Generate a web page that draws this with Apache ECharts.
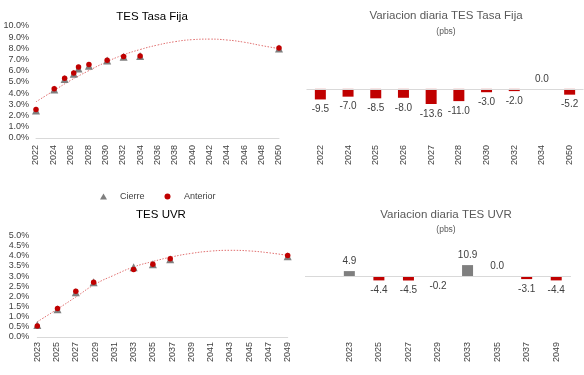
<!DOCTYPE html>
<html><head><meta charset="utf-8">
<script src="https://cdn.jsdelivr.net/npm/echarts@6/dist/echarts.min.js"></script>
<style>html,body{margin:0;padding:0;background:#fff}#c{width:584px;height:375px}</style>
</head><body><div id="c"></div>
<script>
// ---- Data: TES Tasa Fija (top-left scatter) ----
const tfYears    = [2022.0, 2024.1, 2025.3, 2026.35, 2026.9, 2028.1, 2030.2, 2032.1, 2034.0, 2050.0];
const tfAnterior = [2.55, 4.39, 5.34, 5.81, 6.35, 6.56, 6.95, 7.27, 7.33, 8.04];
const tfCierre   = [2.46, 4.32, 5.26, 5.73, 6.21, 6.45, 6.92, 7.25, 7.33, 7.99];
const tfTrendX   = [2022, 2024, 2026, 2028, 2030, 2032, 2034, 2036, 2038, 2040, 2042, 2044, 2046, 2048, 2050];
const tfTrendY   = [3.23, 4.20, 5.15, 5.98, 6.75, 7.40, 7.90, 8.30, 8.60, 8.78, 8.83, 8.75, 8.55, 8.25, 7.98];

// ---- Data: TES UVR (bottom-left scatter) ----
const uvrYears    = [2023.0, 2025.1, 2027.0, 2028.85, 2033.0, 2035.0, 2036.8, 2049.0];
const uvrAnterior = [0.54, 1.41, 2.25, 2.70, 3.32, 3.58, 3.86, 4.02];
const uvrCierre   = [0.59, 1.37, 2.21, 2.70, 3.43, 3.58, 3.83, 3.98];
const uvrTrendX   = [2023, 2025, 2027, 2029, 2031, 2033, 2035, 2037, 2039, 2041, 2043, 2045, 2047, 2049];
const uvrTrendY   = [0.75, 1.35, 1.97, 2.60, 3.05, 3.45, 3.72, 3.95, 4.12, 4.23, 4.27, 4.24, 4.15, 4.02];

// ---- Data: daily variation bars ----
const tfVarCats = ['2022','2024','2025','2026','2027','2028','2030','2032','2034','2050'];
const tfVarVals = [-9.5, -7.0, -8.5, -8.0, -13.6, -11.0, -3.0, -2.0, 0.0, -5.2];
const uvrVarCats = ['', '2023','2025','2027','2029','2033','2035','2037','2049'];
const uvrVarVals = [null, 4.9, -4.4, -4.5, -0.2, 10.9, 0.0, -3.1, -4.4];

const UVR0 = 2023; // offset so the tick grid starts at a multiple of the interval
const FONT = 'Liberation Sans';
const RED = '#C00000', GRAY = '#7F7F7F', AXIS = '#D9D9D9', TXT = '#404040';

const pairs = (xs, ys, off=0) => xs.map((x,i)=>[x-off, ys[i]]);
const barData = vals => vals.map(v => v===null ? null : ({
  value: v,
  itemStyle: {color: v > 0 ? GRAY : RED},
  label: {position: v < 0 ? 'bottom' : 'top'}
}));

const chart = echarts.init(document.getElementById('c'), null, {renderer:'canvas'});
const tStyle = (size,color)=>({fontFamily:FONT,fontSize:size,color:color,fontWeight:'normal'});
chart.setOption({
  animation:false,
  textStyle:{fontFamily:FONT},
  title:[
    {text:'TES Tasa Fija', left:152, top:11, textAlign:'center', padding:0, textStyle:tStyle(11.5,'#000')},
    {text:'TES UVR', left:161, top:209, textAlign:'center', padding:0, textStyle:tStyle(11.5,'#000')},
    {text:'Variacion diaria TES Tasa Fija', left:446, top:10, textAlign:'center', padding:0, textStyle:tStyle(11.5,'#595959')},
    {text:'(pbs)', left:446, top:27, textAlign:'center', padding:0, textStyle:tStyle(8.5,'#595959')},
    {text:'Variacion diaria TES UVR', left:446, top:209, textAlign:'center', padding:0, textStyle:tStyle(11.5,'#595959')},
    {text:'(pbs)', left:446, top:225, textAlign:'center', padding:0, textStyle:tStyle(8.5,'#595959')}
  ],
  legend:{
    data:[{name:'Cierre', icon:'triangle'}, {name:'Anterior', icon:'circle'}],
    left:95, top:187, itemWidth:7, itemHeight:6, itemGap:20,
    textStyle:{fontFamily:FONT, fontSize:9, color:TXT, padding:[0,0,0,8]},
    selectedMode:false
  },
  grid:[
    {left:36, top:26, width:243, height:112},
    {left:37.3, top:235.5, width:250.4, height:101.5},
    {left:306.5, top:40, width:277, height:100},
    {left:305, top:246, width:266, height:93}
  ],
  xAxis:[
    {gridIndex:0, type:'value', min:2022, max:2050, interval:2,
     axisLine:{lineStyle:{color:AXIS}}, axisTick:{show:false}, splitLine:{show:false},
     axisLabel:{rotate:90, margin:7, fontSize:9, color:TXT, fontFamily:FONT, formatter:v=>String(v)}},
    {gridIndex:1, type:'value', min:0, max:26, interval:2,
     axisLine:{lineStyle:{color:AXIS}}, axisTick:{show:false}, splitLine:{show:false},
     axisLabel:{rotate:90, margin:5, fontSize:9, color:TXT, fontFamily:FONT, formatter:v=>String(v+UVR0)}},
    {gridIndex:2, type:'category', data:tfVarCats,
     axisLine:{show:false, onZero:false}, axisTick:{show:false},
     axisLabel:{rotate:90, margin:5, fontSize:9, color:TXT, fontFamily:FONT}},
    {gridIndex:3, type:'category', data:uvrVarCats,
     axisLine:{show:false, onZero:false}, axisTick:{show:false},
     axisLabel:{rotate:90, margin:3, fontSize:9, color:TXT, fontFamily:FONT}}
  ],
  yAxis:[
    {gridIndex:0, type:'value', min:0, max:10, interval:1,
     axisLine:{show:false}, axisTick:{show:false}, splitLine:{show:false},
     axisLabel:{margin:7, fontSize:9, color:TXT, fontFamily:FONT, formatter:v=>v.toFixed(1)+'%'}},
    {gridIndex:1, type:'value', min:0, max:5, interval:0.5,
     axisLine:{show:false}, axisTick:{show:false}, splitLine:{show:false},
     axisLabel:{margin:8, fontSize:9, color:TXT, fontFamily:FONT, formatter:v=>v.toFixed(1)+'%'}},
    {gridIndex:2, type:'value', min:-46, max:44, show:false, splitLine:{show:false}},
    {gridIndex:3, type:'value', min:-63, max:30, show:false, splitLine:{show:false}}
  ],
  series:[
    {name:'Trend TF', type:'line', xAxisIndex:0, yAxisIndex:0, data:pairs(tfTrendX, tfTrendY),
     smooth:true, showSymbol:false, silent:true, z:1,
     lineStyle:{color:'#E07070', width:1, type:[1.5,1.5]}},
    {name:'Cierre', type:'scatter', xAxisIndex:0, yAxisIndex:0, data:pairs(tfYears, tfCierre),
     symbol:'triangle', symbolSize:8, itemStyle:{color:GRAY, opacity:1}, z:2},
    {name:'Anterior', type:'scatter', xAxisIndex:0, yAxisIndex:0, data:pairs(tfYears, tfAnterior),
     symbol:'circle', symbolSize:5.5, itemStyle:{color:RED, opacity:1}, z:3},

    {name:'Trend UVR', type:'line', xAxisIndex:1, yAxisIndex:1, data:pairs(uvrTrendX, uvrTrendY, UVR0),
     smooth:true, showSymbol:false, silent:true, z:1,
     lineStyle:{color:'#E07070', width:1, type:[1.5,1.5]}},
    {name:'Cierre', type:'scatter', xAxisIndex:1, yAxisIndex:1, data:pairs(uvrYears, uvrCierre, UVR0),
     symbol:'triangle', symbolSize:8, itemStyle:{color:GRAY, opacity:1}, z:2},
    {name:'Anterior', type:'scatter', xAxisIndex:1, yAxisIndex:1, data:pairs(uvrYears, uvrAnterior, UVR0),
     symbol:'circle', symbolSize:5.5, itemStyle:{color:RED, opacity:1}, z:3},

    {name:'VarTF', type:'bar', xAxisIndex:2, yAxisIndex:2, data:barData(tfVarVals), barWidth:11,
     label:{show:true, distance:5, fontSize:10, color:TXT, fontFamily:FONT, formatter:p=>p.value.toFixed(1)},
     markLine:{silent:true, symbol:'none', label:{show:false}, animation:false,
       lineStyle:{color:AXIS, type:'solid', width:1}, data:[{yAxis:0}]}},
    {name:'VarUVR', type:'bar', xAxisIndex:3, yAxisIndex:3, data:barData(uvrVarVals), barWidth:11,
     label:{show:true, distance:5, fontSize:10, color:TXT, fontFamily:FONT, formatter:p=>p.value.toFixed(1)},
     markLine:{silent:true, symbol:'none', label:{show:false}, animation:false,
       lineStyle:{color:AXIS, type:'solid', width:1}, data:[{yAxis:0}]}}
  ]
});
</script>
</body></html>
